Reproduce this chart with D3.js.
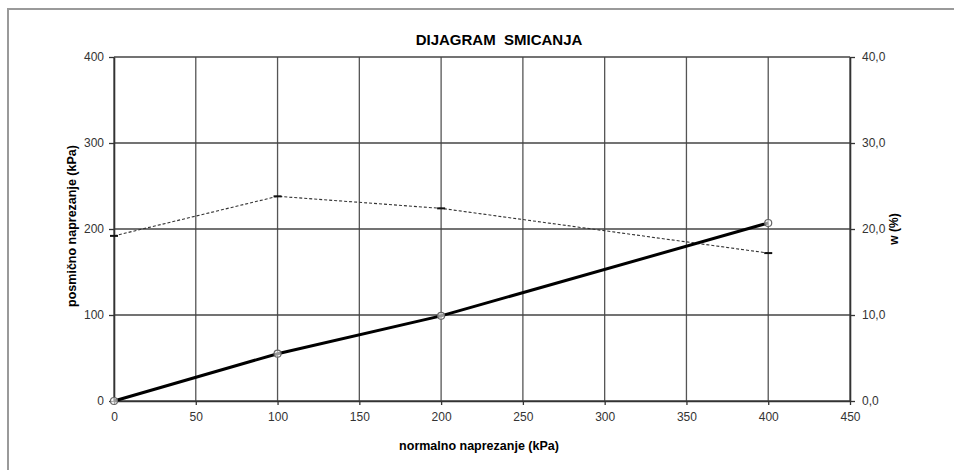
<!DOCTYPE html>
<html lang="hr">
<head>
<meta charset="UTF-8">
<script src="https://d3js.org/d3.v7.min.js"></script>
<style>
  body { margin: 0; background: #fff; }
  svg { display: block; font-family: "Liberation Sans", Arial, sans-serif; }
</style>
</head>
<body>
<div id="container"></div>
<script>
// data
const normalStress = [0, 100, 200, 400];          // kPa
const shearStress = [0, 55, 99, 207];             // kPa (left axis)
const moisture = [19.2, 23.8, 22.4, 17.2];        // w % (right axis)
const xTicks = [0, 50, 100, 150, 200, 250, 300, 350, 400, 450];
const yTicks = [0, 100, 200, 300, 400];
const y2Ticks = [0, 10, 20, 30, 40];

const w = 954, h = 470;
const margin = { left: 114, right: 104, top: 57, bottom: 69 };

const svg = d3.select("#container").append("svg")
  .attr("width", w).attr("height", h);

// outer frame
svg.append("rect")
  .attr("x", 8).attr("y", 9)
  .attr("width", w + 20).attr("height", h + 20)
  .attr("fill", "none").attr("stroke", "#9a9a9a").attr("stroke-width", 2);

const x = d3.scaleLinear().domain([0, 450]).range([margin.left, w - margin.right]);
const y = d3.scaleLinear().domain([0, 400]).range([h - margin.bottom, margin.top]);
const y2 = d3.scaleLinear().domain([0, 40]).range([h - margin.bottom, margin.top]);

// grid
svg.append("g").selectAll("line").data(xTicks).join("line")
  .attr("x1", d => x(d)).attr("x2", d => x(d))
  .attr("y1", y(400)).attr("y2", y(0))
  .attr("stroke", "#555").attr("stroke-width", 1.3);
svg.append("g").selectAll("line").data(yTicks).join("line")
  .attr("x1", x(0)).attr("x2", x(450))
  .attr("y1", d => y(d)).attr("y2", d => y(d))
  .attr("stroke", "#444").attr("stroke-width", 1.3);

// axes
const xAxis = svg.append("g")
  .attr("transform", "translate(0," + y(0) + ")")
  .call(d3.axisBottom(x).tickValues(xTicks).tickSize(4).tickSizeOuter(0).tickPadding(7));
const yAxis = svg.append("g")
  .attr("transform", "translate(" + x(0) + ",0)")
  .call(d3.axisLeft(y).tickValues(yTicks).tickSize(5).tickSizeOuter(0).tickPadding(5));
const y2Axis = svg.append("g")
  .attr("transform", "translate(" + x(450) + ",0)")
  .call(d3.axisRight(y2).tickValues(y2Ticks).tickSize(5).tickSizeOuter(0).tickPadding(7)
    .tickFormat(d => d3.format(".1f")(d).replace(".", ",")));

[xAxis, yAxis, y2Axis].forEach(g => {
  g.select(".domain").attr("stroke", "#333").attr("stroke-width", 1.6);
  g.selectAll(".tick line").attr("stroke", "#333").attr("stroke-width", 1.3);
  g.selectAll(".tick text").attr("fill", "#333").style("font-size", "12px");
});

// series: moisture, dashed with dash markers
svg.append("path")
  .datum(normalStress.map((d, i) => [d, moisture[i]]))
  .attr("fill", "none").attr("stroke", "#333").attr("stroke-width", 1.1)
  .attr("stroke-dasharray", "3,2")
  .attr("d", d3.line().x(d => x(d[0])).y(d => y2(d[1])));
svg.append("g").selectAll("line")
  .data(normalStress.map((d, i) => [d, moisture[i]])).join("line")
  .attr("x1", d => x(d[0]) - 4).attr("x2", d => x(d[0]) + 4)
  .attr("y1", d => y2(d[1])).attr("y2", d => y2(d[1]))
  .attr("stroke", "#111").attr("stroke-width", 2);

// series: shear stress, thick line with open circles
svg.append("path")
  .datum(normalStress.map((d, i) => [d, shearStress[i]]))
  .attr("fill", "none").attr("stroke", "#000").attr("stroke-width", 3)
  .attr("d", d3.line().x(d => x(d[0])).y(d => y(d[1])));
svg.append("g").selectAll("circle")
  .data(normalStress.map((d, i) => [d, shearStress[i]])).join("circle")
  .attr("cx", d => x(d[0])).attr("cy", d => y(d[1])).attr("r", 3.5)
  .attr("fill", "#fff").attr("fill-opacity", 0.6)
  .attr("stroke", "#666").attr("stroke-width", 1.2);

// title and axis labels
svg.append("text")
  .attr("x", 499).attr("y", 45)
  .attr("text-anchor", "middle")
  .style("font-size", "15px").style("font-weight", "bold")
  .attr("xml:space", "preserve")
  .text("DIJAGRAM  SMICANJA");

svg.append("text")
  .attr("x", 479).attr("y", 450)
  .attr("text-anchor", "middle")
  .style("font-size", "12.5px").style("font-weight", "bold")
  .text("normalno naprezanje (kPa)");

svg.append("text")
  .attr("transform", "translate(76,226) rotate(-90)")
  .attr("text-anchor", "middle")
  .style("font-size", "12.5px").style("font-weight", "bold")
  .text("posmično naprezanje (kPa)");

svg.append("text")
  .attr("transform", "translate(898,229) rotate(-90)")
  .attr("text-anchor", "middle")
  .style("font-size", "12px").style("font-weight", "bold")
  .text("w (%)");
</script>
</body>
</html>
